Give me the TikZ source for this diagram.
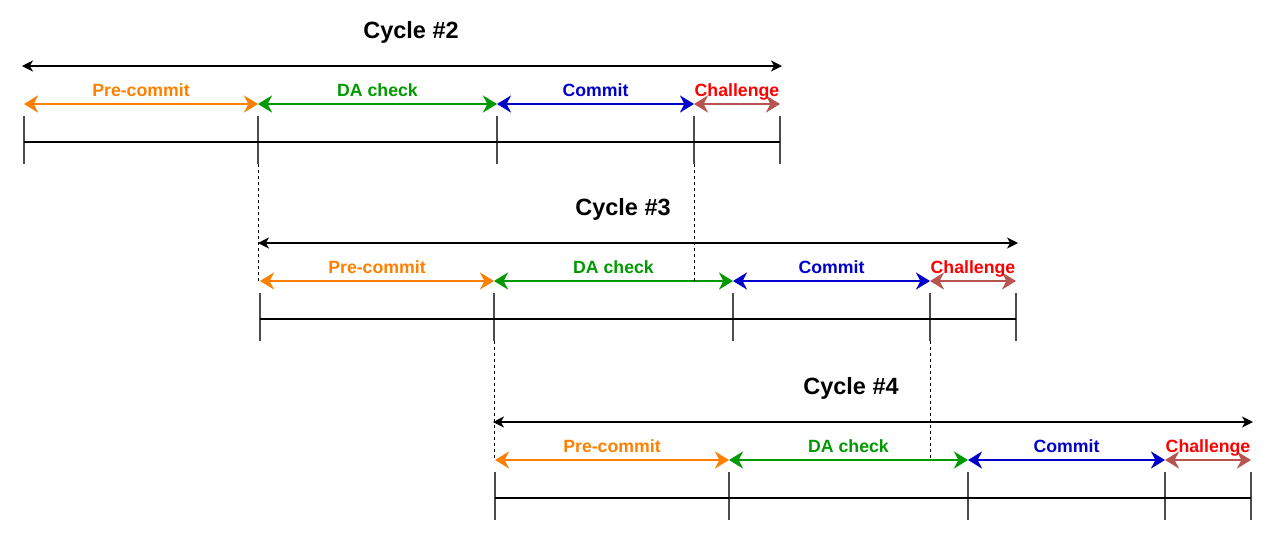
\documentclass[tikz,border=0pt]{standalone}
\usepackage{fontspec}
\setmainfont{Liberation Sans}
\usetikzlibrary{arrows.meta}
\definecolor{precol}{HTML}{FF8000}
\definecolor{dacol}{HTML}{009900}
\definecolor{comcol}{HTML}{0000CC}
\definecolor{chlcol}{HTML}{B85450}
\definecolor{chltxt}{HTML}{FF0000}
\tikzset{
    phase/.style = {line width=1.4pt, arrows={Stealth[length=7pt,width=8.5pt,inset=2.2pt]-Stealth[length=7pt,width=8.5pt,inset=2.2pt]}},
    span/.style = {line width=0.7pt, arrows={Stealth[length=5.5pt,width=5.5pt,inset=1.6pt]-Stealth[length=5.5pt,width=5.5pt,inset=1.6pt]}},
    tick/.style = {line width=0.7pt, black!70},
    axis/.style = {line width=0.7pt},
    guide/.style = {line width=0.5pt, dash pattern=on 1.5pt off 1.5pt},
    lbl/.style = {font=\bfseries\fontsize{8.85}{10}\selectfont, inner sep=0pt, anchor=base, yshift=3.9pt},
    title/.style = {font=\bfseries\fontsize{11.75}{13}\selectfont, inner sep=0pt, anchor=base}
}

\begin{document}
\begin{tikzpicture}[x=0.5pt,y=-0.5pt,line cap=butt]
\useasboundingbox (0,0) rectangle (1279,553);
% one block per cycle
\foreach \n/\xo/\yo/\tx in {2/24/0/411, 3/260/177/623, 4/495/356/851}{
  \foreach \k/\dx in {0/0,1/234,2/473,3/670,4/756}{
    \coordinate (p\n-\k) at (\xo+\dx, 104+\yo);
    \coordinate (t\n-\k) at (\xo+\dx, 116+\yo);
    \coordinate (b\n-\k) at (\xo+\dx, 164+\yo);
    \draw[tick] (t\n-\k) -- (b\n-\k);
  }
  \coordinate (h\n-a) at (\xo, 142+\yo);
  \coordinate (h\n-b) at (\xo+756, 142+\yo);
  \coordinate (s\n-a) at (\xo-2, 66+\yo);
  \coordinate (s\n-b) at (\xo+758, 66+\yo);
  \node[title] (c\n) at (\tx, 38+\yo) {Cycle \#\n};
  \draw[span] (s\n-a) -- (s\n-b);
  \draw[axis] (h\n-a) -- (h\n-b);
  \draw[phase, precol] (p\n-0) -- node[lbl, text=precol] (l\n-a) {Pre-commit} (p\n-1);
  \draw[phase, dacol] (p\n-1) -- node[lbl, text=dacol] (l\n-b) {DA check} (p\n-2);
  \draw[phase, comcol] (p\n-2) -- node[lbl, text=comcol] (l\n-c) {Commit} (p\n-3);
  \draw[phase, chlcol] (p\n-3) -- node[lbl, text=chltxt] (l\n-d) {Challenge} (p\n-4);
}
% overlaps between cycles
\draw[guide] (b2-1) -- (b2-1 |- p3-0);
\draw[guide] (b2-3) -- (b2-3 |- p3-0);
\draw[guide] (b3-1) -- (b3-1 |- p4-0);
\draw[guide] (b3-3) -- (b3-3 |- p4-0);
\end{tikzpicture}
\end{document}
